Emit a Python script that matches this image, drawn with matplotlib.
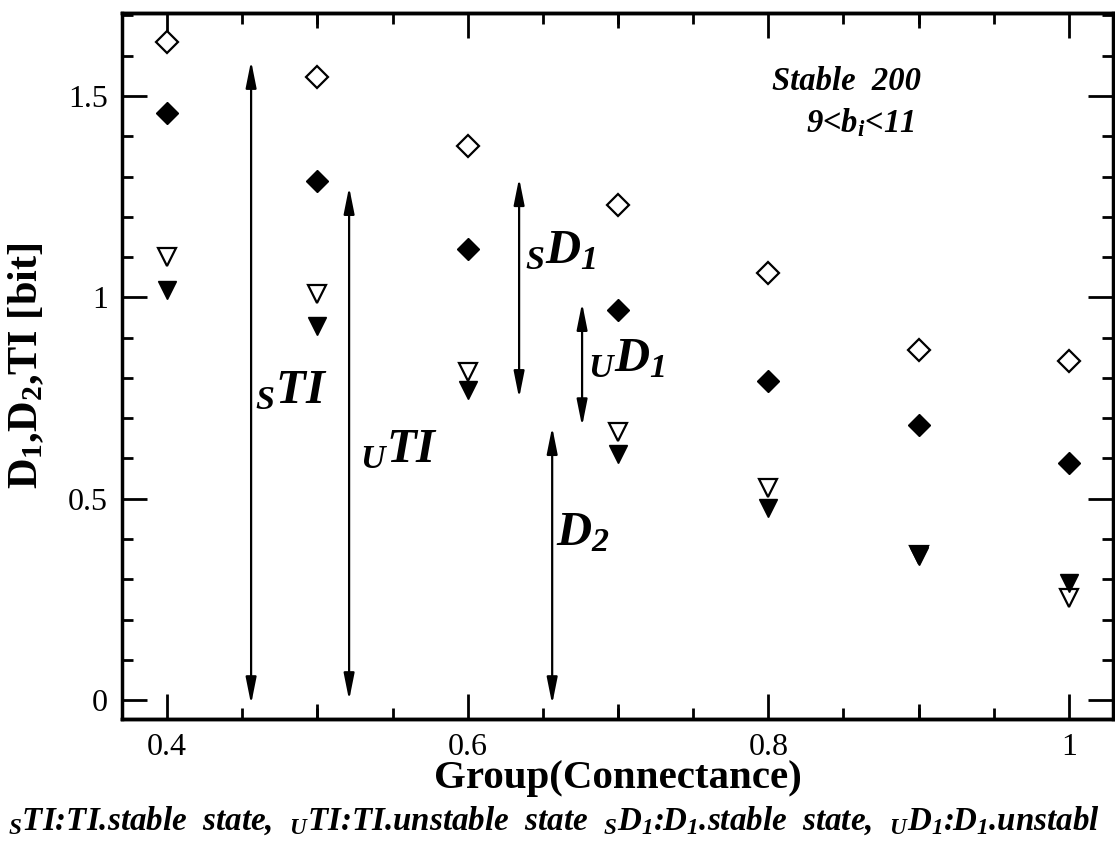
import numpy as np
import matplotlib
matplotlib.use("Agg")
import matplotlib.pyplot as plt
from matplotlib.ticker import MultipleLocator, FixedLocator, FuncFormatter

plt.rcParams['font.family'] = ['Liberation Serif', 'DejaVu Serif']
plt.rcParams['mathtext.fontset'] = 'custom'
plt.rcParams['mathtext.rm'] = 'Liberation Serif'
plt.rcParams['mathtext.it'] = 'Liberation Serif:italic'
plt.rcParams['mathtext.bf'] = 'Liberation Serif:bold'
plt.rcParams['mathtext.bfit'] = 'Liberation Serif:italic:bold'

# connectance groups
group = [0.4, 0.5, 0.6, 0.7, 0.8, 0.9, 1.0]
# open diamonds / filled diamonds / open triangles / filled triangles
open_diamond = [1.635, 1.546, 1.376, 1.229, 1.060, 0.869, 0.842]
filled_diamond = [1.457, 1.289, 1.120, 0.968, 0.792, 0.683, 0.589]
open_tri = [1.101, 1.008, 0.815, 0.666, 0.526, 0.360, 0.253]
filled_tri = [1.018, 0.928, 0.770, 0.611, 0.477, 0.358, 0.290]

# annotation arrows: name, x, bottom, top
arrow_names = ['sTI', 'uTI', 'sD1', 'uD1', 'D2']
arrow_x = [0.4559, 0.5211, 0.6342, 0.6761, 0.6562]
arrow_lo = [-0.01, 0.0, 0.750, 0.680, -0.01]
arrow_hi = [1.587, 1.274, 1.296, 0.986, 0.678]

fig = plt.figure(figsize=(11.15, 8.43), dpi=100)
ax = fig.add_axes([0.1094, 0.147, 0.8888, 0.8376])

ax.plot(group, open_diamond, ls='none', marker='D', ms=11, mfc='white', mec='black', mew=1.6)
ax.plot(group, filled_diamond, ls='none', marker='D', ms=11, mfc='black', mec='black')
ax.plot(group, open_tri, ls='none', marker='v', ms=13, mfc='white', mec='black', mew=1.6)
ax.plot(group, filled_tri, ls='none', marker='v', ms=13, mfc='black', mec='black')

for x, lo, hi in zip(arrow_x, arrow_lo, arrow_hi):
    ax.annotate('', xy=(x, hi), xytext=(x, lo),
                arrowprops=dict(arrowstyle='<|-|>,head_length=0.8,head_width=0.16',
                                mutation_scale=20, lw=1.6, color='black',
                                shrinkA=0, shrinkB=0))

lab = dict(fontsize=35, fontstyle='italic', fontweight='bold', ha='left', va='baseline')
ax.text(0.4586, 0.737, r'${}_{\mathbfit{S}}$TI', **lab)
ax.text(0.5284, 0.591, r'${}_{\mathbfit{U}}$TI', **lab)
ax.text(0.638, 1.085, r'${}_{\mathbfit{S}}$D${}_{\mathbfit{1}}$', **lab)
ax.text(0.680, 0.815, r'${}_{\mathbfit{U}}$D${}_{\mathbfit{1}}$', **lab)
ax.text(0.659, 0.385, r'D${}_{\mathbfit{2}}$', **lab)

ax.text(0.8025, 1.515, 'Stable  200', fontsize=23.5, fontstyle='italic', fontweight='bold')
ax.text(0.825, 1.410, r'9<b${}_{\mathbfit{i}}$<11', fontsize=23.5, fontstyle='italic', fontweight='bold')

ax.set_xlim(0.370, 1.0293)
ax.set_ylim(-0.047, 1.706)

ax.xaxis.set_major_locator(FixedLocator([0.4, 0.6, 0.8, 1.0]))
ax.xaxis.set_minor_locator(MultipleLocator(0.05))
ax.yaxis.set_major_locator(MultipleLocator(0.5))
ax.yaxis.set_minor_locator(MultipleLocator(0.1))
fmt = FuncFormatter(lambda v, p: f'{v:g}')
ax.xaxis.set_major_formatter(fmt)
ax.yaxis.set_major_formatter(fmt)

ax.tick_params(which='both', direction='in', top=True, right=True, width=2, labelsize=23)
ax.tick_params(which='major', length=18, pad=10)
ax.tick_params(which='minor', length=8)
for s in ax.spines.values():
    s.set_linewidth(2.5)

# medium ticks at 0.5, 0.7, 0.9 on bottom and top
for loc in ['bottom', 'top']:
    sec = ax.secondary_xaxis(loc)
    sec.set_xticks([0.5, 0.7, 0.9])
    sec.tick_params(direction='in', length=11, width=2, labelbottom=False, labeltop=False)
    sec.spines[loc].set_linewidth(2.5)

ax.set_xlabel('Group(Connectance)', fontsize=29.5, fontweight='bold')
ax.xaxis.set_label_coords(0.5, -0.058)
ax.xaxis.label.set_va('top')
ax.set_ylabel(r'D${}_{\mathbf{1}}$,D${}_{\mathbf{2}}$,TI [bit]', fontsize=30.5, fontweight='bold')
ax.yaxis.set_label_coords(-0.076, 0.5)

# caption, ends where the reference scan is cut
fig.text(8 / 1115, 1 - 830 / 843,
         r'${}_{\mathbfit{S}}$TI:TI.stable  state,  ${}_{\mathbfit{U}}$TI:TI.unstable  state  '
         r'${}_{\mathbfit{S}}$D${}_{\mathbfit{1}}$:D${}_{\mathbfit{1}}$.stable  state,  '
         r'${}_{\mathbfit{U}}$D${}_{\mathbfit{1}}$:D${}_{\mathbfit{1}}$.unstabl',
         fontsize=23.8, fontstyle='italic', fontweight='bold', ha='left', va='baseline')

fig.savefig('out.png', dpi=100)
